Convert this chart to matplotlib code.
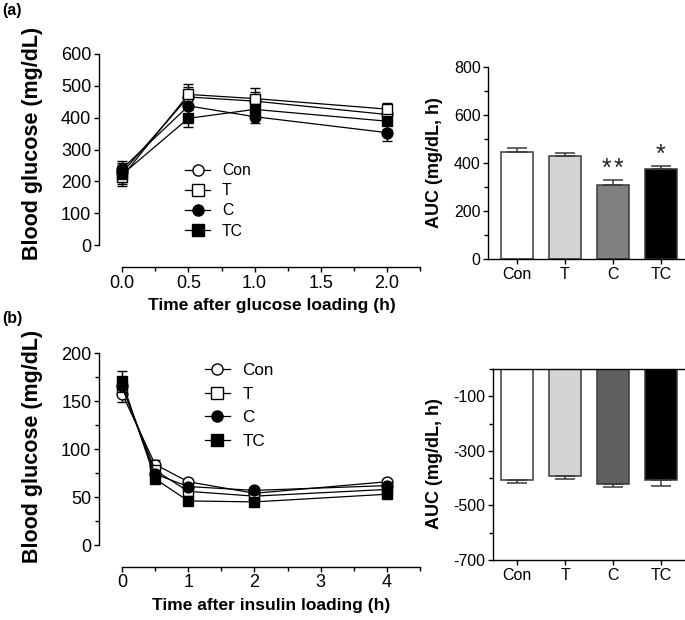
import matplotlib
matplotlib.use('Agg')
import matplotlib.pyplot as plt
from matplotlib.lines import Line2D
from matplotlib.ticker import MultipleLocator

plt.rcParams['font.family'] = ['Liberation Sans', 'DejaVu Sans']
plt.rcParams['axes.unicode_minus'] = False

groups = ['Con', 'T', 'C', 'TC']
markers = ['o', 's', 'o', 's']
faces = ['white', 'white', 'black', 'black']

# (a) glucose tolerance
ogtt_time = [0.0, 0.5, 1.0, 2.0]
ogtt_con = [228, 465, 452, 410]
ogtt_t = [215, 473, 460, 427]
ogtt_c = [240, 437, 403, 353]
ogtt_tc = [222, 398, 426, 389]
ogtt_con_sem = [30, 32, 28, 30]
ogtt_t_sem = [30, 32, 32, 20]
ogtt_c_sem = [25, 30, 20, 26]
ogtt_tc_sem = [30, 26, 25, 25]
ogtt_auc = [445, 430, 306, 373]
ogtt_auc_sem = [18, 10, 23, 13]
ogtt_auc_colors = ['white', '#d4d4d4', '#808080', 'black']
ogtt_stars = [0, 0, 2, 1]

# (b) insulin tolerance
itt_time = [0, 0.5, 1, 2, 4]
itt_con = [158, 84, 66, 54, 66]
itt_t = [165, 78, 56, 51, 58]
itt_c = [166, 74, 61, 57, 62]
itt_tc = [171, 69, 46, 45, 53]
itt_con_sem = [9, 5, 3, 3, 3]
itt_t_sem = [8, 5, 3, 3, 3]
itt_c_sem = [8, 4, 3, 3, 3]
itt_tc_sem = [11, 4, 3, 3, 3]
itt_auc = [-405, -391, -421, -405]
itt_auc_sem = [11, 11, 12, 22]
itt_auc_colors = ['white', '#d4d4d4', '#606060', 'black']

W, H = 685, 620
fig = plt.figure(figsize=(W / 100, H / 100), dpi=100)


def px_axes(x0, y0, x1, y1):
    # pixel box (left, top, right, bottom) -> figure axes
    return fig.add_axes([x0 / W, 1 - y1 / H, (x1 - x0) / W, (y1 - y0) / H])


def style(ax, tick_fs):
    for s in ['top', 'right']:
        ax.spines[s].set_visible(False)
    for s in ['left', 'bottom']:
        ax.spines[s].set_linewidth(1.0)
    ax.tick_params(which='major', length=3.5, width=1.0, labelsize=tick_fs, pad=2)
    ax.tick_params(which='minor', length=3.0, width=1.0)


def line_panel(ax, t, series, sems):
    for y, e, m, fc in zip(series, sems, markers, faces):
        ax.errorbar(t, y, yerr=e, fmt='-', marker=m, ms=7.8, mfc=fc, mec='black',
                    mew=1.0, color='black', lw=0.9, ecolor='black',
                    elinewidth=1.0, capsize=3.5, capthick=1.0)


def legend(ax, x, y, fs, spacing, hl):
    handles = [Line2D([0], [0], color='black', lw=0.9, marker=m, ms=8,
                      mfc=fc, mec='black', mew=1.0)
               for m, fc in zip(markers, faces)]
    ax.legend(handles, groups, loc='upper left', bbox_to_anchor=(x / W, 1 - y / H),
              bbox_transform=fig.transFigure, frameon=False, fontsize=fs,
              borderpad=0, borderaxespad=0, handlelength=hl,
              handletextpad=0.75, labelspacing=spacing)


# ---- (a) left: OGTT curve
ax1 = px_axes(99, 54, 420, 267)
line_panel(ax1, ogtt_time, [ogtt_con, ogtt_t, ogtt_c, ogtt_tc],
           [ogtt_con_sem, ogtt_t_sem, ogtt_c_sem, ogtt_tc_sem])
ax1.set_xlim(-0.176, 2.25)
ax1.set_ylim(-69, 600)
ax1.spines['left'].set_bounds(0, 600)
ax1.spines['bottom'].set_bounds(0, 2.25)
ax1.set_yticks(range(0, 601, 100))
ax1.set_xticks([0.0, 0.5, 1.0, 1.5, 2.0])
ax1.set_xticklabels(['0.0', '0.5', '1.0', '1.5', '2.0'])
ax1.xaxis.set_minor_locator(MultipleLocator(0.25))
style(ax1, 13)
ax1.set_xlabel('Time after glucose loading (h)', fontsize=12.5, fontweight='bold')
ax1.xaxis.set_label_coords(0.539, -0.145)
ax1.set_ylabel('Blood glucose (mg/dL)', fontsize=15.5, fontweight='bold', va='center')
ax1.yaxis.set_label_coords(-0.206, 0.58)
legend(ax1, 185, 163, 11.3, 0.33, 1.6)

# ---- (a) right: OGTT AUC
ax2 = px_axes(488.3, 66.7, 685, 259)
xs = range(len(groups))
ax2.bar(xs, ogtt_auc, width=0.667, color=ogtt_auc_colors, edgecolor='#3a3a3a', lw=1.1,
        yerr=[[0] * 4, ogtt_auc_sem], error_kw=dict(ecolor='#3a3a3a', elinewidth=1.1,
                                                  capsize=7, capthick=1.1))
# significance asterisks, one glyph each so they sit a little apart
for i, n in enumerate(ogtt_stars):
    for k in range(n):
        dx = (k - (n - 1) / 2) * 0.25
        ax2.text(i + dx, ogtt_auc[i] + ogtt_auc_sem[i] - 2, '*', ha='center',
                 va='bottom', fontsize=18, color='#222222')
ax2.set_xlim(-0.59, 3.5)
ax2.set_ylim(0, 800)
ax2.set_xticks(list(xs))
ax2.set_xticklabels(groups)
ax2.set_yticks(range(0, 801, 200))
ax2.yaxis.set_minor_locator(MultipleLocator(100))
style(ax2, 11.5)
ax2.set_ylabel('AUC (mg/dL, h)', fontsize=13, fontweight='bold', va='center')
ax2.yaxis.set_label_coords(-0.2735, 0.502)

# ---- (b) left: ITT curve
ax3 = px_axes(99, 353.3, 420, 566.7)
line_panel(ax3, itt_time, [itt_con, itt_t, itt_c, itt_tc],
           [itt_con_sem, itt_t_sem, itt_c_sem, itt_tc_sem])
ax3.set_xlim(-0.348, 4.5)
ax3.set_ylim(-22.6, 200)
ax3.spines['left'].set_bounds(0, 200)
ax3.spines['bottom'].set_bounds(0, 4.5)
ax3.set_yticks(range(0, 201, 50))
ax3.yaxis.set_minor_locator(MultipleLocator(25))
ax3.set_xticks(range(0, 5))
ax3.xaxis.set_minor_locator(MultipleLocator(0.5))
style(ax3, 13)
ax3.set_xlabel('Time after insulin loading (h)', fontsize=12.5, fontweight='bold')
ax3.xaxis.set_label_coords(0.536, -0.147)
ax3.set_ylabel('Blood glucose (mg/dL)', fontsize=15.5, fontweight='bold', va='center')
ax3.yaxis.set_label_coords(-0.206, 0.563)
legend(ax3, 205, 363, 12.3, 0.5, 1.45)

# ---- (b) right: ITT AUC
ax4 = px_axes(492.7, 369, 685, 560)
ax4.bar(xs, itt_auc, width=0.667, color=itt_auc_colors, edgecolor='#3a3a3a', lw=1.1,
        yerr=[itt_auc_sem, [0] * 4], error_kw=dict(ecolor='#3a3a3a', elinewidth=1.1,
                                                 capsize=7, capthick=1.1))
ax4.set_xlim(-0.51, 3.5)
ax4.set_ylim(-700, 0)
ax4.set_xticks(list(xs))
ax4.set_xticklabels(groups)
ax4.set_yticks([-100, -300, -500, -700])
ax4.yaxis.set_minor_locator(MultipleLocator(100))
style(ax4, 11.5)
ax4.spines['top'].set_visible(True)
ax4.spines['top'].set_linewidth(1.0)
ax4.set_ylabel('AUC (mg/dL, h)', fontsize=13, fontweight='bold', va='center')
ax4.yaxis.set_label_coords(-0.3027, 0.503)

fig.text(2 / W, 1 - 10 / H, '(a)', fontsize=11.5, fontweight='bold', va='center')
fig.text(2 / W, 1 - 318 / H, '(b)', fontsize=11.5, fontweight='bold', va='center')

fig.savefig('out.png', dpi=100)
